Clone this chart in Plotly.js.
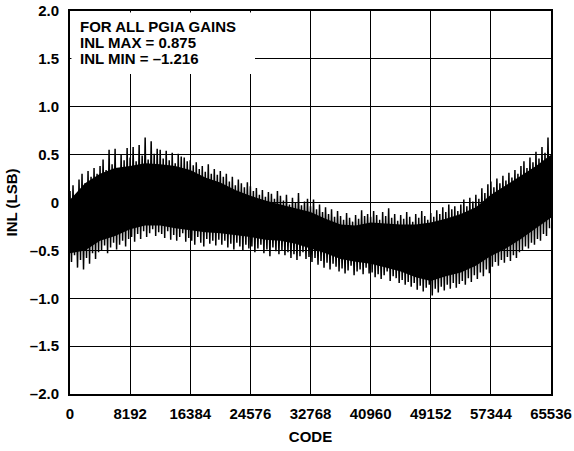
<!DOCTYPE html>
<html>
<head>
<meta charset="utf-8">
<script src="https://cdn.plot.ly/plotly-3.0.1.min.js"></script>
<style>html,body{margin:0;padding:0;background:#fff;}#chart{width:574px;height:451px;}</style>
</head>
<body>
<div id="chart"></div>
<script>
// Code axis
const CODE_MAX = 65536;
const xTickVals = [0, 8192, 16384, 24576, 32768, 40960, 49152, 57344, 65536];
const xTickText = ["0", "8192", "16384", "24576", "32768", "40960", "49152", "57344", "65536"];
const yTickVals = [-2, -1.5, -1, -0.5, 0, 0.5, 1, 1.5, 2];
const yTickText = ["\u20132.0", "\u20131.5", "\u20131.0", "\u20130.5", "0", "0.5", "1.0", "1.5", "2.0"];
const noteLines = ["FOR ALL PGIA GAINS", "INL MAX = 0.875", "INL MIN = \u20131.216"];

// INL (LSB): local peaks and troughs of the noisy trace,
// 160 of each, evenly spread across the code range.
const inlPeaks = [
  0.12, 0.18, 0.08, 0.24, 0.30, 0.20, 0.33, 0.27, 0.36, 0.30,
  0.38, 0.45, 0.34, 0.55, 0.40, 0.56, 0.36, 0.50, 0.44, 0.57,
  0.47, 0.58, 0.43, 0.60, 0.49, 0.68, 0.45, 0.64, 0.51, 0.56,
  0.55, 0.46, 0.54, 0.44, 0.52, 0.41, 0.51, 0.48, 0.47, 0.43,
  0.44, 0.39, 0.42, 0.35, 0.38, 0.32, 0.40, 0.30, 0.35, 0.29,
  0.33, 0.27, 0.30, 0.22, 0.27, 0.18, 0.24, 0.20, 0.16, 0.21,
  0.17, 0.12, 0.15, 0.08, 0.13, 0.06, 0.11, 0.09, 0.04, 0.12,
  0.07, 0.02, 0.08, -0.02, 0.05, 0.00, 0.10, -0.03, 0.01, 0.04,
  -0.04, 0.03, -0.07, -0.02, -0.10, -0.05, -0.12, -0.07, -0.15, -0.09,
  -0.14, -0.18, -0.11, -0.16, -0.20, -0.13, -0.17, -0.08, -0.14, -0.12,
  -0.15, -0.09, -0.13, -0.18, -0.10, -0.14, -0.06, -0.16, -0.12, -0.19,
  -0.13, -0.17, -0.10, -0.15, -0.20, -0.12, -0.16, -0.09, -0.14, -0.18,
  -0.11, -0.15, -0.08, -0.12, -0.05, -0.10, -0.02, -0.07, -0.04, -0.09,
  -0.02, 0.03, -0.04, 0.05, 0.01, 0.08, 0.04, 0.15, 0.10, 0.19,
  0.22, 0.16, 0.25, 0.20, 0.28, 0.23, 0.31, 0.26, 0.34, 0.30,
  0.38, 0.43, 0.36, 0.47, 0.42, 0.53, 0.46, 0.58, 0.52, 0.68
];
const inlTroughs = [
  -0.62, -0.55, -0.68, -0.60, -0.70, -0.58, -0.64, -0.53, -0.59, -0.52,
  -0.50, -0.45, -0.53, -0.47, -0.42, -0.49, -0.44, -0.40, -0.46, -0.38,
  -0.36, -0.41, -0.33, -0.38, -0.30, -0.36, -0.32, -0.28, -0.35, -0.31,
  -0.33, -0.37, -0.30, -0.39, -0.34, -0.40, -0.36, -0.32, -0.41, -0.37,
  -0.40, -0.44, -0.36, -0.42, -0.46, -0.38, -0.43, -0.40, -0.45, -0.39,
  -0.44, -0.40, -0.47, -0.43, -0.49, -0.42, -0.46, -0.50, -0.44, -0.48,
  -0.46, -0.52, -0.48, -0.44, -0.53, -0.49, -0.56, -0.47, -0.51, -0.54,
  -0.50, -0.55, -0.52, -0.58, -0.54, -0.60, -0.56, -0.52, -0.59, -0.57,
  -0.62, -0.58, -0.65, -0.61, -0.68, -0.63, -0.70, -0.64, -0.67, -0.72,
  -0.69, -0.74, -0.71, -0.66, -0.76, -0.72, -0.70, -0.75, -0.68, -0.74,
  -0.73, -0.78, -0.75, -0.80, -0.76, -0.72, -0.82, -0.77, -0.79, -0.84,
  -0.81, -0.86, -0.83, -0.88, -0.84, -0.91, -0.87, -0.93, -0.89, -0.86,
  -0.97, -0.90, -0.94, -0.88, -0.92, -0.86, -0.90, -0.84, -0.89, -0.85,
  -0.82, -0.86, -0.79, -0.83, -0.76, -0.80, -0.73, -0.77, -0.70, -0.74,
  -0.67, -0.62, -0.66, -0.60, -0.63, -0.57, -0.61, -0.55, -0.58, -0.52,
  -0.50, -0.46, -0.48, -0.42, -0.44, -0.38, -0.40, -0.33, -0.35, -0.27
];

// Dense (solid black) core of the noise band, read every 2048 codes
const coreCodes = [0, 2048, 4096, 6144, 8192, 10240, 12288, 14336, 16384, 18432, 20480,
  22528, 24576, 26624, 28672, 30720, 32768, 34816, 36864, 38912, 40960, 43008, 45056,
  47104, 49152, 51200, 53248, 55296, 57344, 59392, 61440, 63488, 65536];
const coreUpper = [0.03, 0.20, 0.30, 0.36, 0.38, 0.41, 0.40, 0.38, 0.34, 0.26, 0.21,
  0.13, 0.07, 0.02, -0.02, -0.06, -0.10, -0.17, -0.23, -0.24, -0.21, -0.22, -0.23,
  -0.23, -0.21, -0.17, -0.12, -0.05, 0.08, 0.18, 0.28, 0.38, 0.50];
const coreLower = [-0.53, -0.50, -0.40, -0.35, -0.28, -0.24, -0.24, -0.27, -0.29, -0.31, -0.32,
  -0.34, -0.36, -0.39, -0.40, -0.43, -0.48, -0.53, -0.59, -0.62, -0.64, -0.68, -0.72,
  -0.78, -0.82, -0.77, -0.73, -0.66, -0.56, -0.48, -0.38, -0.27, -0.16];

// Interleave peaks and troughs into one trace over the code range
const step = CODE_MAX / inlPeaks.length;
const xs = [], ys = [];
for (let i = 0; i < inlPeaks.length; i++) {
  xs.push(i * step); ys.push(inlPeaks[i]);
  xs.push(i * step + step / 2); ys.push(inlTroughs[i]);
}
const coreX = coreCodes.concat(coreCodes.slice().reverse());
const coreY = coreUpper.concat(coreLower.slice().reverse());

const FONT = "Liberation Sans, Arial, sans-serif";
const bold = t => "<b>" + t + "</b>";
const annotations = noteLines.map((t, k) => ({
  xref: "paper", yref: "paper", x: 0.017, y: 1 - (16 + k * 15.6) / 383,
  xanchor: "left", yanchor: "middle", showarrow: false, text: bold(t),
  font: {family: FONT, size: 15, color: "#000"}
}));

const layout = {
  width: 574, height: 451,
  margin: {l: 70, r: 23, t: 11, b: 57},
  paper_bgcolor: "#fff", plot_bgcolor: "#fff",
  showlegend: false,
  font: {family: FONT, size: 15, color: "#000"},
  xaxis: {
    range: [0, CODE_MAX], tickmode: "array", tickvals: xTickVals, ticktext: xTickText.map(bold),
    showgrid: true, gridcolor: "#000", gridwidth: 1.2, zeroline: false,
    showline: true, linecolor: "#000", linewidth: 2, mirror: true,
    ticks: "outside", ticklen: 5, tickcolor: "rgba(0,0,0,0)",
    tickfont: {family: FONT, size: 15, color: "#000"},
    title: {text: bold("CODE"), font: {family: FONT, size: 15, color: "#000"}, standoff: 10},
    fixedrange: true
  },
  yaxis: {
    range: [-2, 2], tickmode: "array", tickvals: yTickVals, ticktext: yTickText.map(bold),
    showgrid: true, gridcolor: "#000", gridwidth: 1.2, zeroline: false,
    showline: true, linecolor: "#000", linewidth: 2, mirror: true,
    ticks: "outside", ticklen: 6, tickcolor: "rgba(0,0,0,0)",
    tickfont: {family: FONT, size: 15, color: "#000"},
    title: {text: bold("INL (LSB)"), font: {family: FONT, size: 15, color: "#000"}, standoff: 9},
    fixedrange: true
  },
  shapes: [{
    type: "rect", xref: "paper", yref: "paper", layer: "above",
    x0: 0.003, x1: (255 - 70) / 481, y0: (394 - 74) / 383, y1: 0.996,
    fillcolor: "#fff", line: {width: 0}
  }],
  annotations: annotations
};

Plotly.newPlot("chart", [
  {type: "scatter", mode: "lines", x: coreX, y: coreY, fill: "toself",
   fillcolor: "#000", line: {color: "#000", width: 0}, hoverinfo: "skip"},
  {type: "scatter", mode: "lines", x: xs, y: ys,
   line: {color: "#000", width: 1.5}, hoverinfo: "skip"}
], layout, {staticPlot: true, displayModeBar: false});
</script>
</body>
</html>
